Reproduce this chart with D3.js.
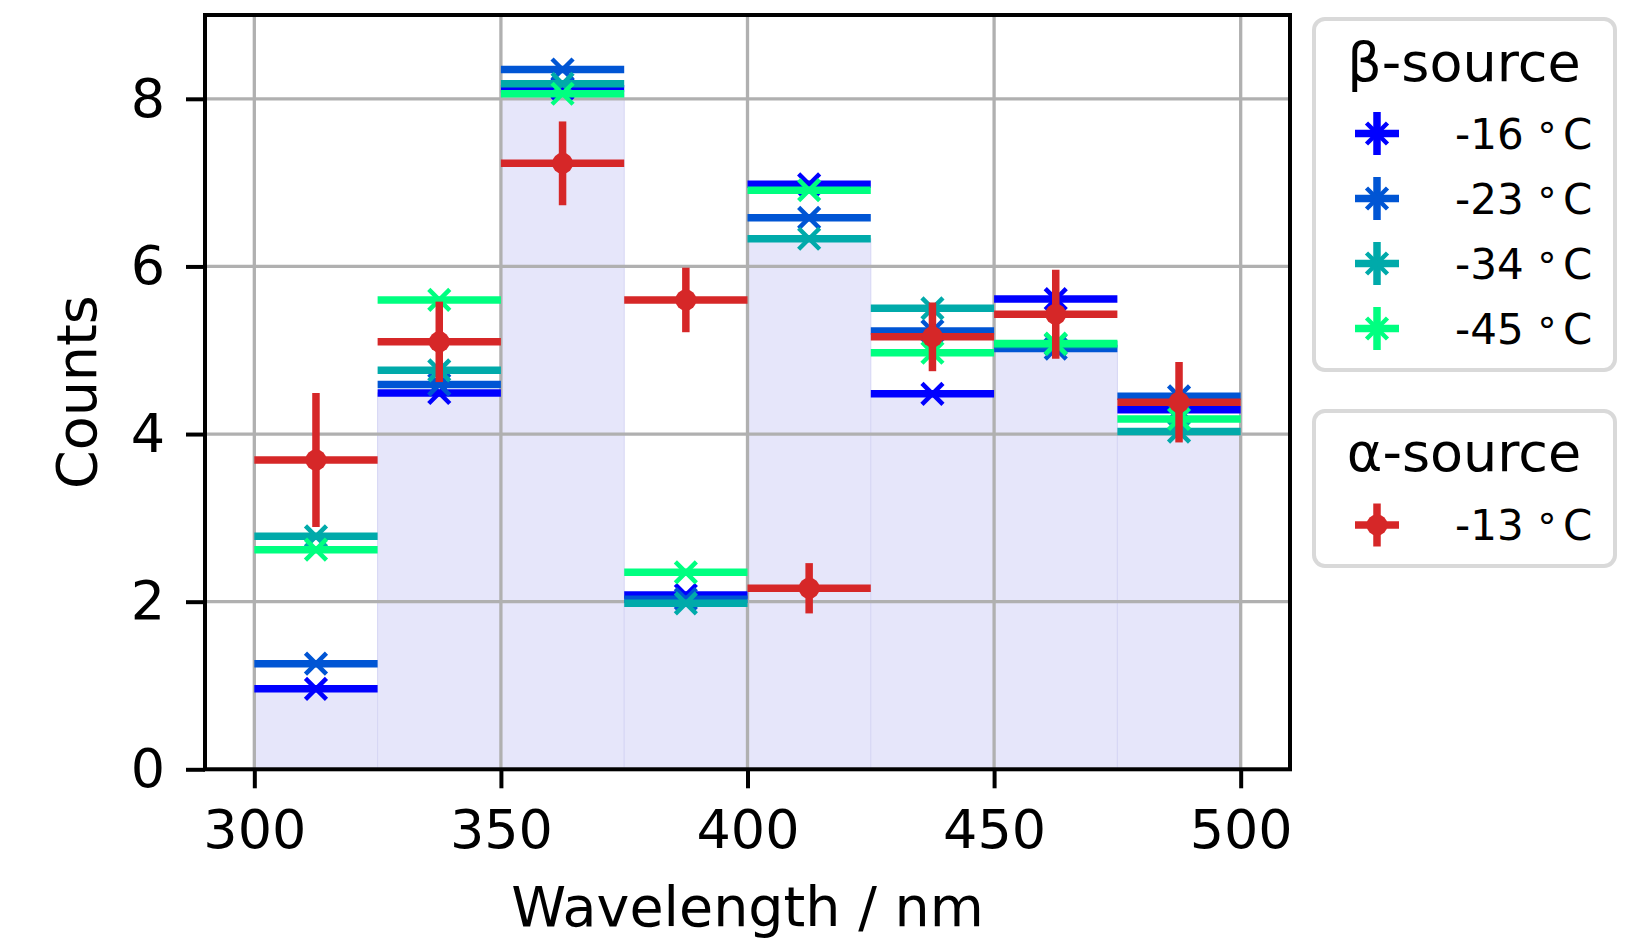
<!DOCTYPE html>
<html><head><meta charset="utf-8">
<script src="https://cdn.jsdelivr.net/npm/d3@7"></script>
<style>body{margin:0;background:#fff;} text{font-family:"DejaVu Sans",sans-serif;}</style>
</head><body>
<svg id="c" width="1629" height="939"></svg>
<script>
// ---- data ----
const binEdges = [300, 325, 350, 375, 400, 425, 450, 475, 500];
const binCenters = [312.5, 337.5, 362.5, 387.5, 412.5, 437.5, 462.5, 487.5];
const betaLabels = ["-16", "-23", "-34", "-45"];
const beta16 = [0.96, 4.49, 8.12, 2.08, 6.98, 4.48, 5.61, 4.29];
const beta23 = [1.26, 4.59, 8.35, 2.03, 6.58, 5.23, 5.02, 4.45];
const beta34 = [2.78, 4.76, 8.18, 1.98, 6.33, 5.50, 5.07, 4.03];
const beta45 = [2.62, 5.60, 8.06, 2.35, 6.91, 4.97, 5.08, 4.18];
const alphaLabel = "-13";
const alpha13 = [3.69, 5.10, 7.23, 5.60, 2.16, 5.16, 5.43, 4.38];
const alpha13Err = [0.80, 0.48, 0.50, 0.385, 0.30, 0.41, 0.53, 0.48];
const xTicks = [300, 350, 400, 450, 500];
const yTicks = [0, 2, 4, 6, 8];
const betaColors = ["#0000ff", "#0055d4", "#00aaaa", "#00ff80"];
const alphaColor = "#d62728";

const betaSeries = [beta16, beta23, beta34, beta45];

const svg = d3.select("#c");
const L = 205, R = 1290, T = 15, B = 769.3;
const x = d3.scaleLinear().domain([290, 510]).range([L, R]);
const y = d3.scaleLinear().domain([0, 9]).range([B, T]);
const FS = 54, LFS = 55.5;

// fill: min of beta series per bin
const fillVals = binCenters.map((_, i) => d3.min(betaSeries, s => s[i]));
svg.append("g").selectAll("rect").data(fillVals).join("rect")
  .attr("x", (d, i) => x(binEdges[i]))
  .attr("width", (d, i) => x(binEdges[i + 1]) - x(binEdges[i]))
  .attr("y", d => y(d))
  .attr("height", d => y(0) - y(d))
  .attr("fill", "#e6e6fa")
  .attr("stroke", "#d6d6f4").attr("stroke-width", 1);

// grid
const grid = svg.append("g").attr("stroke", "#b0b0b0").attr("stroke-width", 3.3);
xTicks.forEach(t => grid.append("line").attr("x1", x(t)).attr("x2", x(t)).attr("y1", T).attr("y2", B));
yTicks.forEach(t => grid.append("line").attr("x1", L).attr("x2", R).attr("y1", y(t)).attr("y2", y(t)));

// axes
const xAxis = svg.append("g").attr("transform", `translate(0,${B})`)
  .call(d3.axisBottom(x).tickValues(xTicks).tickSize(19).tickPadding(21.5).tickFormat(d3.format("d")));
const yAxis = svg.append("g").attr("transform", `translate(${L},0)`)
  .call(d3.axisLeft(y).tickValues(yTicks).tickSize(19).tickPadding(21).tickFormat(d3.format("d")));
[xAxis, yAxis].forEach(a => {
  a.select(".domain").remove();
  a.selectAll(".tick line").attr("stroke", "#000").attr("stroke-width", 4);
  a.selectAll(".tick text").attr("font-size", FS).attr("fill", "#000").attr("font-family", "DejaVu Sans");
});

// data series
const lw = 7.5;
function drawX(g, cx, cy, color, s) {
  g.append("path").attr("d", `M${cx - s},${cy - s}L${cx + s},${cy + s}M${cx - s},${cy + s}L${cx + s},${cy - s}`)
    .attr("stroke", color).attr("stroke-width", 4.5).attr("fill", "none");
}
betaSeries.forEach((s, k) => {
  const g = svg.append("g");
  s.forEach((v, i) => {
    g.append("line").attr("x1", x(binEdges[i])).attr("x2", x(binEdges[i + 1]))
      .attr("y1", y(v)).attr("y2", y(v)).attr("stroke", betaColors[k]).attr("stroke-width", lw);
  });
  s.forEach((v, i) => drawX(g, x(binCenters[i]), y(v), betaColors[k], 10.5));
});
{
  const g = svg.append("g");
  alpha13.forEach((v, i) => {
    g.append("line").attr("x1", x(binEdges[i])).attr("x2", x(binEdges[i + 1]))
      .attr("y1", y(v)).attr("y2", y(v)).attr("stroke", alphaColor).attr("stroke-width", lw);
    g.append("line").attr("x1", x(binCenters[i])).attr("x2", x(binCenters[i]))
      .attr("y1", y(v - alpha13Err[i])).attr("y2", y(v + alpha13Err[i])).attr("stroke", alphaColor).attr("stroke-width", lw);
  });
  alpha13.forEach((v, i) => g.append("circle").attr("cx", x(binCenters[i])).attr("cy", y(v)).attr("r", 10.5).attr("fill", alphaColor));
}

// spines
svg.append("rect").attr("x", L).attr("y", T).attr("width", R - L).attr("height", B - T)
  .attr("fill", "none").attr("stroke", "#000").attr("stroke-width", 4);

// axis labels
svg.append("text").attr("x", (L + R) / 2).attr("y", 926).attr("text-anchor", "middle")
  .attr("font-size", LFS).text("Wavelength / nm");
svg.append("text").attr("transform", `translate(96,${(T + B) / 2}) rotate(-90)`).attr("text-anchor", "middle")
  .attr("font-size", LFS).text("Counts");

// legends
function legendBox(y0, y1) {
  svg.append("rect").attr("x", 1314).attr("y", y0).attr("width", 301).attr("height", y1 - y0)
    .attr("rx", 11).attr("fill", "#fff").attr("fill-opacity", 0.8).attr("stroke", "#d9d9d9").attr("stroke-width", 4);
}
function legendEntry(cy, color, label, isAlpha) {
  const g = svg.append("g");
  g.append("line").attr("x1", 1355).attr("x2", 1399).attr("y1", cy).attr("y2", cy).attr("stroke", color).attr("stroke-width", lw);
  g.append("line").attr("x1", 1377).attr("x2", 1377).attr("y1", cy - 21.5).attr("y2", cy + 21.5).attr("stroke", color).attr("stroke-width", lw);
  if (isAlpha) g.append("circle").attr("cx", 1377).attr("cy", cy).attr("r", 10.5).attr("fill", color);
  else drawX(g, 1377, cy, color, 10.5);
  const by = cy + 15;
  g.append("text").attr("x", 1455).attr("y", by).attr("font-size", 42).text(label);
  g.append("text").attr("x", 1547).attr("y", by).attr("font-size", 38).attr("text-anchor", "middle").text("°");
  g.append("text").attr("x", 1563).attr("y", by).attr("font-size", 42).text("C");
}
legendBox(19, 370);
svg.append("text").attr("x", 1464).attr("y", 81).attr("text-anchor", "middle").attr("font-size", FS).text("β-source");
const legY = [133.5, 198.5, 263.5, 328.5];
betaLabels.forEach((lab, k) => legendEntry(legY[k], betaColors[k], lab, false));
legendBox(411, 566);
svg.append("text").attr("x", 1464).attr("y", 471).attr("text-anchor", "middle").attr("font-size", FS).text("α-source");
legendEntry(525, alphaColor, alphaLabel, true);
</script>
</body></html>
